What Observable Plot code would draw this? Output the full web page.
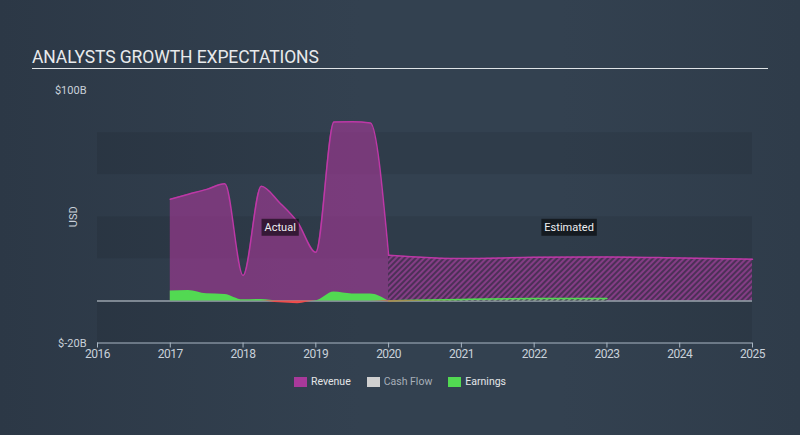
<!DOCTYPE html>
<html><head><meta charset="utf-8">
<script src="https://cdn.jsdelivr.net/npm/d3@7"></script>
<script src="https://cdn.jsdelivr.net/npm/@observablehq/plot@0.6"></script>
<style>
body{margin:0;background:#313f4e;font-family:Roboto,sans-serif;}
#wrap{position:relative;width:800px;height:435px;overflow:hidden;background:linear-gradient(90deg,#2c3846 0%,#334150 45%,#334150 70%,#2f3c4a 100%);}
#title{position:absolute;left:32px;top:46px;width:736px;font-size:17.5px;color:#e8eaec;border-bottom:1px solid #dfe3e6;padding-bottom:0px;line-height:22px;letter-spacing:-0.1px;}
#chart{position:absolute;left:0;top:70px;}
#legend{position:absolute;top:375px;left:0;width:800px;display:flex;justify-content:center;font-size:10.5px;line-height:14px;padding-left:-6px;}
.item{display:flex;align-items:center;margin:0 8px;}
.sw{display:inline-block;width:13px;height:10px;margin-right:4px;}
</style></head>
<body><div id="wrap"><div id="title">ANALYSTS GROWTH EXPECTATIONS</div><div id="chart"></div><div id="legend"></div></div>
<script>
// ---- data (USD billions) ----
const years = [2016, 2017, 2018, 2019, 2020, 2021, 2022, 2023, 2024, 2025];
const actualTimes = [2017, 2017.25, 2017.5, 2017.75, 2018, 2018.25, 2018.5, 2018.75, 2019, 2019.25, 2019.5, 2019.75, 2020];
const actualRevenue = [48.3, 50.7, 53.0, 55.7, 12.1, 54.5, 46.8, 37.4, 23.1, 85.0, 85.2, 84.5, 21.7];
const actualEarnings = [4.7, 5.0, 3.4, 3.1, 0.5, 0.7, -0.9, -1.3, 0.1, 4.2, 3.3, 3.3, -0.4];
const estRevenueYears = [2020, 2021, 2022, 2023, 2024, 2025];
const estRevenue = [21.7, 20.1, 20.7, 20.9, 20.4, 19.8];
const estEarningsYears = [2020, 2021, 2022, 2023];
const estEarnings = [-0.5, 0.7, 1.1, 1.1];
const yTicks = [100, -20];
const bandStarts = [-20, 20, 60];
const annotations = [{x: 2018.51, y: 35, text: "Actual"}, {x: 2022.48, y: 35, text: "Estimated"}];
const legendItems = [
  {name: "Revenue", color: "#a8399a", text: "#e4e6e8"},
  {name: "Cash Flow", color: "#d0d0d0", text: "#a7afb8"},
  {name: "Earnings", color: "#52d952", text: "#e4e6e8"}
];

const actual = actualTimes.map((t, i) => ({t, revenue: actualRevenue[i], earnings: actualEarnings[i]}));
const estRev = estRevenueYears.map((t, i) => ({t, v: estRevenue[i]}));
const estEarn = estEarningsYears.map((t, i) => ({t, v: estEarnings[i]}));

const REV = "#a8399a", REV_LINE = "#bd38a6", GREEN = "#52d952", RED = "#ee4d4d";

function defs() {
  const d = d3.create("svg:defs");
  const p1 = d.append("pattern").attr("id", "hatchRev").attr("patternUnits", "userSpaceOnUse")
    .attr("width", 4).attr("height", 4).attr("patternTransform", "rotate(45)");
  p1.append("rect").attr("width", 4).attr("height", 4).attr("fill", "#4c3057");
  p1.append("rect").attr("width", 2).attr("height", 4).attr("fill", "#843d85");
  const p2 = d.append("pattern").attr("id", "hatchEarn").attr("patternUnits", "userSpaceOnUse")
    .attr("width", 4).attr("height", 4).attr("patternTransform", "rotate(45)");
  p2.append("rect").attr("width", 4).attr("height", 4).attr("fill", "#3b4a4a");
  p2.append("rect").attr("width", 2).attr("height", 4).attr("fill", "#7fa37f");
  return d.node();
}

const chart = Plot.plot({
  width: 800, height: 298,
  marginLeft: 97, marginRight: 48, marginTop: 20, marginBottom: 25.5,
  style: {background: "transparent", color: "#c9d1da", fontFamily: "Roboto, sans-serif", fontSize: "12px", overflow: "visible"},
  x: {domain: [years[0], years[years.length - 1]]},
  y: {domain: [-20, 100]},
  marks: [
    defs,
    Plot.rect(bandStarts, {x1: () => years[0], x2: () => years[years.length - 1], y1: d => d, y2: d => d + 20, fill: "#000", fillOpacity: 0.07}),
    Plot.areaY(actual, {x: "t", y: "revenue", curve: "monotone-x", fill: REV, fillOpacity: 0.6}),
    Plot.areaY(estRev, {x: "t", y: "v", curve: "monotone-x", fill: "url(#hatchRev)"}),
    Plot.lineY(actual, {x: "t", y: "revenue", curve: "monotone-x", stroke: REV_LINE, strokeWidth: 1.5}),
    Plot.lineY(estRev, {x: "t", y: "v", curve: "monotone-x", stroke: REV_LINE, strokeWidth: 1.5}),
    Plot.ruleY([0], {x1: () => years[0], x2: () => years[years.length - 1], stroke: "#9aa3ad", strokeWidth: 1.5}),
    Plot.areaY(estEarn, {x: "t", y: d => Math.max(d.v, 0), curve: "monotone-x", fill: "url(#hatchEarn)"}),
    Plot.lineY(estEarn, {x: "t", y: d => Math.max(d.v, 0), curve: "monotone-x", stroke: GREEN, strokeWidth: 1.5}),
    Plot.areaY(estEarn, {x: "t", y: d => Math.min(d.v, 0), curve: "monotone-x", fill: RED}),
    Plot.areaY(actual, {x: "t", y: d => Math.max(d.earnings, 0), curve: "monotone-x", fill: GREEN}),
    Plot.areaY(actual, {x: "t", y: d => Math.min(d.earnings, 0), curve: "monotone-x", fill: RED}),
    Plot.ruleY([-20], {stroke: "#a9b6c3", strokeWidth: 1}),
    Plot.axisX({ticks: years, tickFormat: d => String(d), tickSize: 5, tickPadding: 1, stroke: "#a9b6c3", fill: "#c9d1da", label: null, fontSize: 12}),
    Plot.axisY({ticks: yTicks, tickFormat: d => `$${d}B`, tickSize: 0, tickPadding: 11, label: null, fill: "#c9d1da", fontSize: 11}),
    Plot.text(["USD"], {frameAnchor: "left", textAnchor: "middle", rotate: -90, dx: -24, fill: "#c9d1da", fontSize: 11}),
    Plot.text(annotations, {x: "x", y: "y", text: "text", fill: "#eef0f2", fontSize: 11})
  ]
});
document.getElementById("chart").appendChild(chart);

// condensed look for x tick labels
chart.querySelectorAll("text").forEach(t => {
  if (/^\d{4}$/.test(t.textContent)) t.style.letterSpacing = "-0.5px";
});

// background boxes for annotations
const svgBox = chart.getBoundingClientRect();
const annTexts = new Set(annotations.map(a => a.text));
chart.querySelectorAll("text").forEach(t => {
  if (!annTexts.has(t.textContent)) return;
  const b = t.getBoundingClientRect();
  let top = t; while (top.parentNode !== chart) top = top.parentNode;
  const r = document.createElementNS("http://www.w3.org/2000/svg", "rect");
  r.setAttribute("x", b.left - svgBox.left - 3); r.setAttribute("y", b.top - svgBox.top - 2);
  r.setAttribute("width", b.width + 6); r.setAttribute("height", b.height + 4);
  r.setAttribute("fill", "#000"); r.setAttribute("fill-opacity", "0.55");
  chart.insertBefore(r, top);
});

const leg = d3.select("#legend");
legendItems.forEach(it => {
  const d = leg.append("div").attr("class", "item");
  d.append("span").attr("class", "sw").style("background", it.color);
  d.append("span").style("color", it.text).text(it.name);
});
</script></body></html>
